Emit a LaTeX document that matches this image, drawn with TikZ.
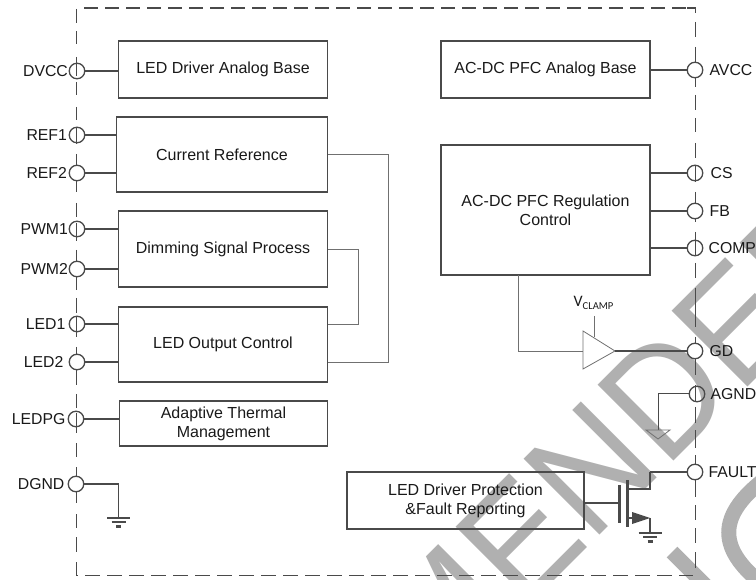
\documentclass[tikz,border=0pt]{standalone}
\usepackage{fontspec}
\setmainfont{Liberation Sans}
\newfontfamily\calfont{Carlito}
\usetikzlibrary{positioning}
\definecolor{wirecol}{HTML}{4A4A4A}
\definecolor{thincol}{HTML}{707070}
\definecolor{markcol}{HTML}{B0B0B0}
\tikzstyle{block}=[draw=wirecol,line width=1.3pt,inner sep=0pt,align=center,font=\fontsize{16}{19}\selectfont,text=black!90]
\tikzstyle{pinpt}=[draw=wirecol,line width=1.3pt,circle,inner sep=0pt,minimum size=15.5pt]
\tikzstyle{pintext}=[inner sep=0pt,font=\fontsize{15.8}{18}\selectfont,text=black!90]
\tikzstyle{wire}=[draw=wirecol,line width=1.3pt]
\tikzstyle{thinwire}=[draw=thincol,line width=0.8pt]
\tikzstyle{fetbar}=[draw=wirecol,line width=3pt]
\tikzstyle{edge}=[draw=wirecol,line width=1.4pt]
\tikzset{gndmark/.pic={
    \draw[wirecol,line width=2pt] (-11.5,0) -- (11.5,0);
    \draw[wirecol,line width=2pt] (-7,4.4) -- (7,4.4);
    \draw[wirecol,line width=2.4pt] (-2.5,8.6) -- (2.5,8.6);
}}

\begin{document}
\begin{tikzpicture}[x=1pt,y=-1pt]
    \useasboundingbox (0,0) rectangle (756,580);
    % watermark behind everything
    \begin{scope}
        \clip (0,0) rectangle (756,580);
        \node[anchor=base west,rotate=45,xscale=.93,transform shape,inner sep=0pt,text=markcol,
            font=\fontsize{156}{156}\selectfont] (stamp) at (369,766) {AMENDED};
        \draw[markcol,line width=15pt] (770,475) .. controls (715,515) and (715,550) .. (770,590);
        \draw[markcol,line width=15pt] (672,552) -- (712,592);
    \end{scope}
    % package outline
    \draw[edge,dash pattern=on 14pt off 7pt] (84,8) -- (687,8);
    \draw[edge] (687,8) -- (695.5,8) -- (695.5,13);
    \draw[edge,dash pattern=on 15pt off 7pt] (76.5,562) -- (76.5,575.5) -- (693,575.5);
    \draw[edge]
        (76.5,9) -- (76.5,23) (76.5,31) -- (76.5,44) (76.5,57) -- (76.5,76)
        (76.5,82) -- (76.5,95) (76.5,107) -- (76.5,120) (76.5,128) -- (76.5,144)
        (76.5,154) -- (76.5,165) (76.5,181) -- (76.5,192) (76.5,203) -- (76.5,217)
        (76.5,223) -- (76.5,241) (76.5,250) -- (76.5,261) (76.5,277) -- (76.5,290)
        (76.5,298) -- (76.5,313) (76.5,317) -- (76.5,337) (76.5,347) -- (76.5,354)
        (76.5,370) -- (76.5,385) (76.5,394) -- (76.5,408) (76.5,413) -- (76.5,433)
        (76.5,443) -- (76.5,457) (76.5,467) -- (76.5,476) (76.5,492) -- (76.5,503)
        (76.5,514) -- (76.5,528) (76.5,537) -- (76.5,552);
    \draw[edge]
        (695.5,22) -- (695.5,37) (695.5,47) -- (695.5,62) (695.5,78) -- (695.5,87)
        (695.5,95) -- (695.5,110) (695.5,118) -- (695.5,132) (695.5,143) -- (695.5,158)
        (695.5,165) -- (695.5,182) (695.5,192) -- (695.5,203) (695.5,219) -- (695.5,222)
        (695.5,232) -- (695.5,256) (695.5,263) -- (695.5,278) (695.5,288) -- (695.5,327)
        (695.5,337) -- (695.5,343) (695.5,359) -- (695.5,375) (695.5,385) -- (695.5,402)
        (695.5,407) -- (695.5,423) (695.5,430) -- (695.5,448) (695.5,455) -- (695.5,464)
        (695.5,480) -- (695.5,497) (695.5,505) -- (695.5,520) (695.5,528) -- (695.5,543)
        (695.5,552) -- (695.5,568);
    % blocks
    \node[block,minimum width=209pt,minimum height=57pt] (analogled) at (223,69.5) {LED Driver Analog Base};
    \node[block,minimum width=211pt,minimum height=75pt] (curref) at (222,154.5) {Current Reference};
    \node[block,minimum width=209pt,minimum height=76pt] (dimming) at (223,249) {Dimming Signal Process};
    \node[block,minimum width=209pt,minimum height=75pt] (ledout) at (223,344.5) {LED Output Control};
    \node[block,minimum width=208pt,minimum height=45pt] (thermal) at (223.5,423.5) {Adaptive Thermal\\Management};
    \node[block,minimum width=237pt,minimum height=57pt] (protect) at (465.5,500.5) {LED Driver Protection\\\&Fault Reporting};
    \node[block,minimum width=209pt,minimum height=57pt] (analogpfc) at (545.5,69.5) {AC-DC PFC Analog Base};
    \node[block,minimum width=209pt,minimum height=130pt] (pfcreg) at (545.5,210) {AC-DC PFC Regulation\\Control};
    % left pins
    \node[pinpt] (dvcc) at (77,71) {};
    \node[pinpt] (refa) at (77,135) {};
    \node[pinpt] (refb) at (77,173) {};
    \node[pinpt] (pwma) at (77,229) {};
    \node[pinpt] (pwmb) at (77,269) {};
    \node[pinpt] (leda) at (77,324) {};
    \node[pinpt] (ledb) at (77,362) {};
    \node[pinpt] (ledpg) at (76,419) {};
    \node[pinpt] (dgnd) at (76,484) {};
    \node[pintext,left=0.5pt of dvcc] (dvcctext) {DVCC};
    \node[pintext,left=1.5pt of refa] (refatext) {REF1};
    \node[pintext,left=1.5pt of refb] (refbtext) {REF2};
    \node[pintext,left=0.5pt of pwma] (pwmatext) {PWM1};
    \node[pintext,left=0.5pt of pwmb] (pwmbtext) {PWM2};
    \node[pintext,left=3pt of leda] (ledatext) {LED1};
    \node[pintext,left=5pt of ledb] (ledbtext) {LED2};
    \node[pintext,left=2pt of ledpg] (ledpgtext) {LEDPG};
    \node[pintext,left=3pt of dgnd] (dgndtext) {DGND};
    % right pins
    \node[pinpt] (avcc) at (695,70) {};
    \node[pinpt] (cs) at (695,173) {};
    \node[pinpt] (fb) at (695,211) {};
    \node[pinpt] (comp) at (695,248) {};
    \node[pinpt] (gd) at (695,351) {};
    \node[pinpt] (agnd) at (697,394) {};
    \node[pinpt] (fault) at (695,472) {};
    \node[pintext,right=6pt of avcc] (avcctext) {AVCC};
    \node[pintext,right=7pt of cs] (cstext) {CS};
    \node[pintext,right=6pt of fb] (fbtext) {FB};
    \node[pintext,right=5pt of comp] (comptext) {COMP};
    \node[pintext,right=6pt of gd] (gdtext) {GD};
    \node[pintext,right=5pt of agnd] (agndtext) {AGND};
    \node[pintext,right=5pt of fault] (faulttext) {FAULT};
    % pins to blocks
    \draw[wire] (dvcc) -- (dvcc -| analogled.west);
    \draw[wire] (refa) -- (refa -| curref.west);
    \draw[wire] (refb) -- (refb -| curref.west);
    \draw[wire] (pwma) -- (pwma -| dimming.west);
    \draw[wire] (pwmb) -- (pwmb -| dimming.west);
    \draw[wire] (leda) -- (leda -| ledout.west);
    \draw[wire] (ledb) -- (ledb -| ledout.west);
    \draw[wire] (ledpg) -- (ledpg -| thermal.west);
    \draw[wire] (avcc) -- (avcc -| analogpfc.east);
    \draw[wire] (cs) -- (cs -| pfcreg.east);
    \draw[wire] (fb) -- (fb -| pfcreg.east);
    \draw[wire] (comp) -- (comp -| pfcreg.east);
    % links between blocks
    \coordinate (refturn) at (388,154);
    \coordinate (refback) at (388,362);
    \coordinate (dimturn) at (358,249);
    \coordinate (dimback) at (358,324);
    \draw[thinwire] (refturn -| curref.east) -- (refturn) -- (refback) -- (refback -| ledout.east);
    \draw[thinwire] (dimturn -| dimming.east) -- (dimturn) -- (dimback) -- (dimback -| ledout.east);
    % clamp amplifier
    \coordinate (ampin) at (583,351);
    \coordinate (ampout) at (615,351);
    \coordinate (amptop) at (594,337);
    \coordinate (clamptop) at (594,316);
    \draw[thinwire] (583,331) -- (ampout) -- (583,369) -- cycle;
    \draw[thinwire] (518,275) -- (518,351) -- (ampin);
    \draw[thinwire] (clamptop) -- (amptop);
    \draw[wire] (ampout) -- (gd);
    \node[inner sep=0pt,text=black!90] (vclamp) at (593.5,303) {\calfont\fontsize{16}{18}\selectfont V\raisebox{-2.5pt}{\fontsize{10.6}{12}\selectfont CLAMP}};
    % analog ground
    \coordinate (agndturn) at (658,394);
    \coordinate (agndfoot) at (658,430);
    \draw[wire,line width=1pt] (agnd) -- (agndturn) -- (agndfoot);
    \draw[thinwire] (646,430) -- (670,430) -- (658,439) -- cycle;
    % digital ground
    \coordinate (dgndturn) at (118.5,484);
    \coordinate (dgndfoot) at (118.5,518);
    \draw[wire] (dgnd) -- (dgndturn) -- (dgndfoot);
    \pic at (dgndfoot) {gndmark};
    % fault transistor
    \coordinate (gatept) at (619,503);
    \coordinate (drainpt) at (627,489);
    \coordinate (drainturn) at (650,489);
    \coordinate (srcpt) at (627,518);
    \coordinate (srctip) at (650,518);
    \coordinate (srcfoot) at (650,533);
    \draw[wire] (gatept -| protect.east) -- (gatept);
    \draw[fetbar] (619,485) -- (619,523);
    \draw[fetbar] (627,480) -- (627,527);
    \draw[wire,line width=2.4pt] (drainpt) -- (drainturn) -- (drainturn |- fault);
    \draw[wire] (drainturn |- fault) -- (fault);
    \draw[wire,line width=2pt] (srcpt) -- (632,518);
    \fill[wirecol] (632,512) -- (srctip) -- (632,524) -- cycle;
    \draw[wire] (srctip) -- (srcfoot);
    \pic at (srcfoot) {gndmark};
\end{tikzpicture}
\end{document}
